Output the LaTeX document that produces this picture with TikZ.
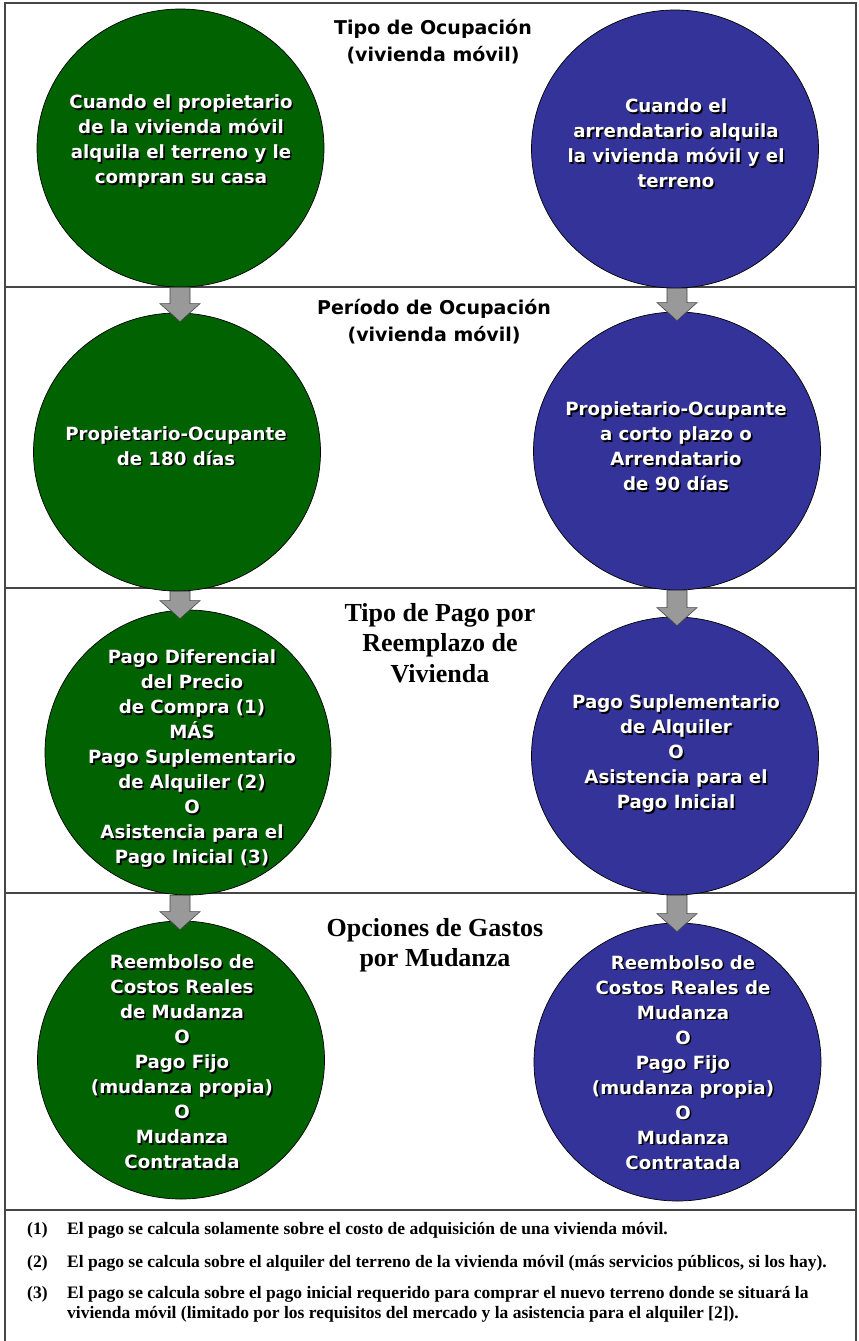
\documentclass[tikz,border=0pt]{standalone}
\usepackage{fontspec}
\setmainfont{Liberation Serif}
\newfontfamily\vfont{DejaVu Sans}
\usetikzlibrary{shapes.geometric,calc}
\definecolor{dgreen}{RGB}{0,98,0}
\definecolor{dblue}{RGB}{51,51,153}
\definecolor{arrgray}{RGB}{153,153,153}
\definecolor{framegray}{RGB}{70,70,70}
\tikzset{
 bubble/.style={ellipse, draw=black, line width=0.7pt, minimum width=287pt, minimum height=278pt, inner sep=0pt},
 gbub/.style={bubble, fill=dgreen},
 bbub/.style={bubble, fill=dblue},
 wtxt/.style={text=white, align=center, font=\vfont\bfseries\fontsize{18.2}{25}\selectfont, inner sep=0pt},
 stxt/.style={wtxt, text=black},
 sanstitle/.style={align=center, font=\vfont\bfseries\fontsize{19}{27}\selectfont, inner sep=0pt},
 seriftitle/.style={align=center, font=\bfseries\fontsize{26}{30.5}\selectfont, inner sep=0pt},
 fnote/.style={anchor=base west, font=\bfseries\fontsize{17.5}{20}\selectfont, inner sep=0pt},
 framel/.style={draw=framegray, line width=1.2pt},
 blockarrow/.style={fill=arrgray, draw=framegray, line width=0.6pt, line join=miter},
}
\newcommand\shtext[3]{%
  \node[stxt] at ($(#2)+(1.6,1.6)$) {#3};
  \node[wtxt] (#1) at (#2) {#3};}
\newcommand\blockarr[3]{%
  \draw[blockarrow] let \p1=(#1.south), \p2=(#2.north) in
   ({#3pt-10pt},\y1) -- ({#3pt-10pt},\y2+9pt) -- ({#3pt-20pt},\y2+9pt) --
   ({#3pt},\y2-9pt) -- ({#3pt+20pt},\y2+9pt) -- ({#3pt+10pt},\y2+9pt) --
   ({#3pt+10pt},\y1) -- cycle;}
\begin{document}
\begin{tikzpicture}[x=1pt,y=-1pt]
\useasboundingbox (0,0) rectangle (859,1341);
\fill[white] (0,0) rectangle (859,1341);
% frame
\draw[framel] (5,1341) -- (5,3) -- (856,3) -- (856,1341);
\draw[framel] (5,287) -- (856,287);
\draw[framel] (5,588) -- (856,588);
\draw[framel] (5,893) -- (856,893);
\draw[framel] (5,1210) -- (856,1210);
% titles
\node[sanstitle] (t1) at (433,41.5) {Tipo de Ocupación\\(vivienda móvil)};
\node[sanstitle] (t2) at (434,321.5) {Período de Ocupación\\(vivienda móvil)};
\node[seriftitle] (t3) at (440,643) {Tipo de Pago por\\Reemplazo de\\Vivienda};
\node[seriftitle] (t4) at (435,945) {Opciones de Gastos\\por Mudanza};
% circles
\node[gbub] (g1) at (180.5,148) {};
\node[bbub] (b1) at (675,149) {};
\node[gbub] (g2) at (177,452) {};
\node[bbub] (b2) at (677,451) {};
\node[gbub, minimum width=286pt, minimum height=285pt] (g3) at (188,752.5) {};
\node[bbub] (b3) at (675,756) {};
\node[gbub] (g4) at (181,1060) {};
\node[bbub] (b4) at (677.5,1062) {};
% arrows
\blockarr{g1}{g2}{180}
\blockarr{g2}{g3}{180}
\blockarr{g3}{g4}{180}
\blockarr{b1}{b2}{677}
\blockarr{b2}{b3}{677}
\blockarr{b3}{b4}{677}
% circle texts
\coordinate (pg1) at (181,141);
\coordinate (pb1) at (676,143.5);
\coordinate (pg2) at (176,446);
\coordinate (pb2) at (676,446.5);
\coordinate (pg3) at (192,758.5);
\coordinate (pb3) at (676,754);
\coordinate (pg4) at (182,1062);
\coordinate (pb4) at (683,1062.5);
\shtext{g1t}{pg1}{Cuando el propietario\\de la vivienda móvil\\alquila el terreno y le\\compran su casa}
\shtext{b1t}{pb1}{Cuando el\\arrendatario alquila\\la vivienda móvil y el\\terreno}
\shtext{g2t}{pg2}{Propietario-Ocupante\\de 180 días}
\shtext{b2t}{pb2}{Propietario-Ocupante\\a corto plazo o\\Arrendatario\\de 90 días}
\shtext{g3t}{pg3}{Pago Diferencial\\del Precio\\de Compra (1)\\MÁS\\Pago Suplementario\\de Alquiler (2)\\O\\Asistencia para el\\Pago Inicial (3)}
\shtext{b3t}{pb3}{Pago Suplementario\\de Alquiler\\O\\Asistencia para el\\Pago Inicial}
\shtext{g4t}{pg4}{Reembolso de\\Costos Reales\\de Mudanza\\O\\Pago Fijo\\(mudanza propia)\\O\\Mudanza\\Contratada}
\shtext{b4t}{pb4}{Reembolso de\\Costos Reales de\\Mudanza\\O\\Pago Fijo\\(mudanza propia)\\O\\Mudanza\\Contratada}
% footnotes
\node[fnote] (n1) at (27,1234) {(1)};
\node[fnote] (f1) at (67,1234) {El pago se calcula solamente sobre el costo de adquisición de una vivienda móvil.};
\node[fnote] (n2) at (27,1267) {(2)};
\node[fnote] (f2) at (67,1267) {El pago se calcula sobre el alquiler del terreno de la vivienda móvil (más servicios públicos, si los hay).};
\node[fnote] (n3) at (27,1298) {(3)};
\node[fnote] (f3) at (67,1298) {El pago se calcula sobre el pago inicial requerido para comprar el nuevo terreno donde se situará la};
\node[fnote] (f3b) at (67,1318) {vivienda móvil (limitado por los requisitos del mercado y la asistencia para el alquiler [2]).};
\end{tikzpicture}
\end{document}
